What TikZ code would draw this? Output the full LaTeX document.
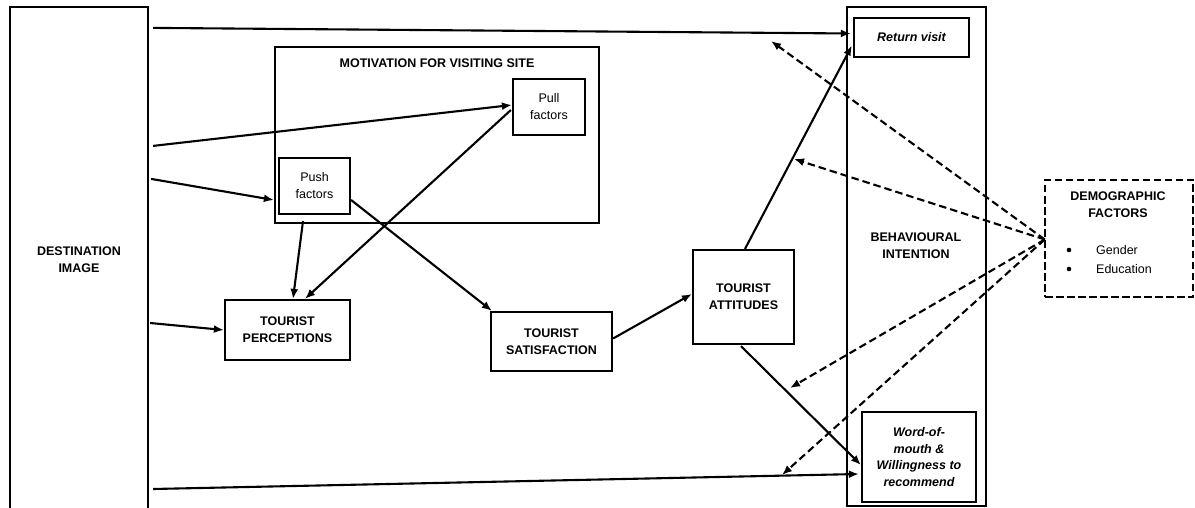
\documentclass[tikz,border=0pt]{standalone}
\usepackage{fontspec}
\setmainfont{Liberation Sans}
\usetikzlibrary{arrows.meta}
\begin{document}
\begin{tikzpicture}[x=1pt,y=-1pt,
  font=\fontsize{12.5}{17}\selectfont,
  box/.style={draw,line width=2.2pt,inner sep=0pt,align=center},
  hd/.style={font=\fontsize{12.5}{17}\selectfont\bfseries,align=center},
  it/.style={font=\fontsize{12.5}{16.5}\selectfont\bfseries\itshape,align=center},
  arr/.style={line width=2.1pt,-{Latex[length=10pt,width=8pt]}},
  darr/.style={line width=2.1pt,dash pattern=on 7.5pt off 4pt,-{Latex[length=10pt,width=8pt]}},
  dot/.style={circle,fill,inner sep=0pt,minimum size=4.6pt}]
\useasboundingbox (0,0) rectangle (1195,508);
\clip (0,0) rectangle (1195,508);
\fill[white] (0,0) rectangle (1195,508);

% main blocks
\node[box,minimum width=138,minimum height=508] (dest) at (79,261) {};
\node[hd] (destt) at (79,260) {DESTINATION\\IMAGE};

\node[box,minimum width=324,minimum height=176] (motiv) at (437,135) {};
\node[hd] (motivt) at (437,63) {MOTIVATION FOR VISITING SITE};
\node[box,minimum width=72,minimum height=56] (pull) at (549,107) {Pull\\factors};
\node[box,minimum width=71,minimum height=56] (push) at (314.5,186) {Push\\factors};

\node[box,minimum width=125,minimum height=60] (percep) at (287.5,330) {\bfseries TOURIST\\\bfseries PERCEPTIONS};
\node[box,minimum width=121,minimum height=59] (satis) at (551.5,341.5) {\bfseries TOURIST\\\bfseries SATISFACTION};
\node[box,minimum width=101,minimum height=94] (attit) at (743.5,297) {\bfseries TOURIST\\\bfseries ATTITUDES};

\node[box,minimum width=139,minimum height=499] (behav) at (916.5,256.5) {};
\node[hd] (behavt) at (916,246) {BEHAVIOURAL\\INTENTION};
\node[box,it,minimum width=115,minimum height=39] (ret) at (911.5,37.5) {Return visit};
\node[box,it,minimum width=114,minimum height=90] (wom) at (919,457) {Word-of-\\mouth \&\\Willingness to\\recommend};

\node[draw,line width=2.4pt,dash pattern=on 7.5pt off 3.5pt,minimum width=148,minimum height=117] (demo) at (1119,238.5) {};
\node[hd] (demot) at (1118,205) {DEMOGRAPHIC\\FACTORS};
\node[dot] (b1) at (1069,250) {};
\node[anchor=west,inner sep=0pt] (g1) at (1096,250) {Gender};
\node[dot] (b2) at (1069,269) {};
\node[anchor=west,inner sep=0pt] (g2) at (1096,269) {Education};

% solid connectors
\draw[arr] ([shift={(4,22)}]dest.north east) -- ([shift={(-2,-4)}]ret.west);
\draw[arr] ([shift={(4,140)}]dest.north east) -- ([shift={(0,-2)}]pull.west);
\draw[arr] ([shift={(2,173)}]dest.north east) -- ([shift={(-4,14)}]push.west);
\draw[arr] ([shift={(1,62)}]dest.east) -- (percep.west);
\draw[arr] ([shift={(4,228)}]dest.east) -- ([shift={(-2,17)}]wom.west);
\draw[arr] ([shift={(-11.5,6)}]push.south) -- ([shift={(5.5,0)}]percep.north);
\draw[arr] ([shift={(-1,3)}]pull.west) -- ([shift={(17.5,0)}]percep.north);
\draw[arr] ([shift={(0,14)}]push.east) -- ([shift={(2,0)}]satis.north west);
\draw[arr] ([shift={(0,-3)}]satis.east) -- ([shift={(0,-3)}]attit.west);
\draw[arr] ([shift={(1.5,0)}]attit.north) -- ([shift={(-1,8)}]ret.west);
\draw[arr] ([shift={(-2.5,1)}]attit.south) -- ([shift={(0,8)}]wom.west);

% dashed moderating links
\coordinate (m1) at (771,41);
\coordinate (m2) at (794,159);
\coordinate (m3) at (790,388);
\coordinate (m4) at (782,475);
\foreach \t in {m1,m2,m3,m4}
  \draw[darr] ([shift={(1,1)}]demo.west) -- (\t);
\end{tikzpicture}
\end{document}
